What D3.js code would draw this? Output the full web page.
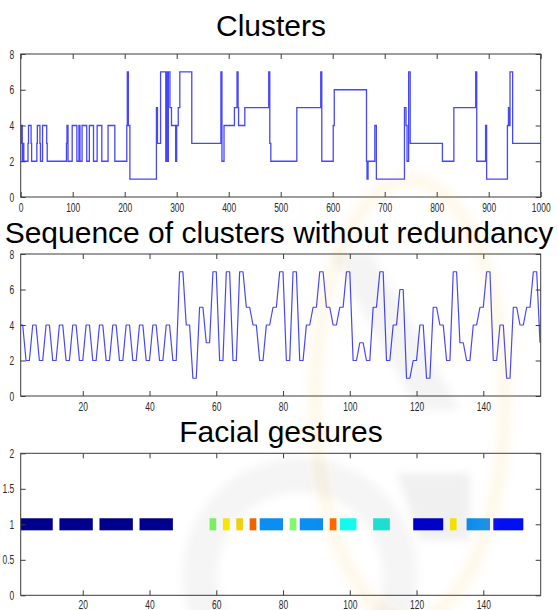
<!DOCTYPE html>
<html><head><meta charset="utf-8">
<script src="https://cdn.jsdelivr.net/npm/d3@7"></script>
<style>
html,body{margin:0;padding:0;background:#fff;}
svg{display:block;}
text{font-family:"Liberation Sans",Arial,sans-serif;}
</style></head>
<body><svg id="c" width="558" height="610"></svg>
<script>
// ---------- DATA ----------
// Panel 1: cluster index over frames (step changes: start frame, cluster)
const clusterFrames = [0,1,3,5,6,14,15,20,21,31,32,37,38,42,50,51,88,89,91,99,108,112,114,118,127,132,140,147,156,168,181,204,205,207,210,261,263,269,279,281,282,284,287,290,298,300,303,306,329,385,387,391,411,416,418,419,431,477,479,481,531,577,579,601,603,665,666,668,681,684,738,741,743,746,749,811,833,875,877,894,896,936,938,940,941,946,1000];
const clusterValues = [3,4,2,3,2,3,4,3,2,3,4,3,2,4,3,2,3,4,2,4,2,4,2,4,2,4,2,4,2,4,2,4,7,4,1,5,3,7,2,7,2,7,5,4,2,4,5,7,3,7,2,4,5,7,5,4,5,7,3,2,5,7,2,4,6,2,1,2,4,1,5,4,2,7,3,2,5,7,2,4,1,4,5,4,7,3,3];
const clusterXTicks = [0,100,200,300,400,500,600,700,800,900,1000];
const clusterYTicks = [0,2,4,6,8];

// Panel 2: sequence of clusters without redundancy (index 1..157)
const sequenceValues = [
4,4,2,2,4,4,2,2,4,4,2,2,4,4,2,2,4,4,2,2,4,4,2,2,
4,4,2,2,4,4,2,2,4,4,2,2,4,4,2,2,4,4,2,2,4,4,2,2,
7,7,4,4,1,1,5,5,3,3,7,7,2,2,7,7,2,2,7,7,
5,5,4,4,2,2,4,4,5,5,7,7,2,2,7,7,2,2,4,4,
5,5,7,7,5,5,4,4,5,5,7,7,2,2,3,3,2,2,5,5,
7,7,2,2,4,4,6,6,1,1,2,2,4,4,1,1,5,5,4,4,
2,2,7,7,3,3,2,2,4,4,5,5,7,7,2,2,4,4,1,1,
5,5,4,4,5,5,7,7,3];
const seqXTicks = [20,40,60,80,100,120,140];
const seqYTicks = [0,2,4,6,8];

// Panel 3: facial gestures (segments on the sequence index)
const gestureStart = [1,13,25,37,58,62,66,70,73,82,85,94,97,107,119,130,135,143];
const gestureEnd   = [11,23,35,47,60,64,68,72,80,84,92,96,102,112,128,132,142,152];
const gestureColor = ["#00008c","#00008c","#00008c","#00008c","#80f868","#fff000","#f2d40c","#f26400","#0a8ef2","#80f868","#0a8ef2","#ff6200","#12fbee","#20e6da","#0000d4","#fff000","#1090f0","#0010f2"];
const gestureY = 1;
const gesXTicks = [20,40,60,80,100,120,140];
const gesYTicks = [0,0.5,1,1.5,2];

// ---------- LAYOUT ----------
const svg = d3.select("#c");
svg.append("rect").attr("width",558).attr("height",610).attr("fill","#fff");
const L = 20.7, R = 540.7;
const panels = [
  {top:54, bottom:197, pad:6},
  {top:254, bottom:396, pad:6},
  {top:453.3, bottom:595.3, pad:4}
];
const frameColor = "#3c3c3c";
const lineColor = "#4646ff";

function styleAxis(g, isY){
  g.select(".domain").remove();
  g.selectAll(".tick line").attr("stroke",frameColor).attr("stroke-width",1);
  g.selectAll(".tick text").attr("fill","#2a2a2a").attr("font-size",13)
    .attr("font-family","'Liberation Sans',Arial,sans-serif");
  if(isY){
    g.selectAll(".tick text").attr("x",-10).attr("transform","scale(0.65,1)");
  } else {
    g.selectAll(".tick text").attr("transform","scale(0.65,1)");
  }
}

function drawFrame(x, y, p, xTicks, yTicks, yFmt, clipId){
  const gb = svg.append("g").attr("transform",`translate(0,${p.bottom})`)
    .call(d3.axisBottom(x).tickValues(xTicks).tickSizeInner(-5).tickSizeOuter(0).tickPadding(p.pad).tickFormat(d3.format("d")));
  styleAxis(gb,false);
  const gt = svg.append("g").attr("transform",`translate(0,${p.top})`)
    .call(d3.axisTop(x).tickValues(xTicks).tickSizeInner(-5).tickSizeOuter(0).tickFormat(""));
  styleAxis(gt,false);
  const gl = svg.append("g").attr("transform",`translate(${L},0)`)
    .call(d3.axisLeft(y).tickValues(yTicks).tickSizeInner(-5).tickSizeOuter(0).tickPadding(6).tickFormat(yFmt));
  styleAxis(gl,true);
  const gr = svg.append("g").attr("transform",`translate(${R},0)`)
    .call(d3.axisRight(y).tickValues(yTicks).tickSizeInner(-5).tickSizeOuter(0).tickFormat(""));
  styleAxis(gr,false);
  svg.append("rect").attr("x",L).attr("y",p.top).attr("width",R-L).attr("height",p.bottom-p.top)
    .attr("fill","none").attr("stroke",frameColor).attr("stroke-width",1);
  svg.append("clipPath").attr("id",clipId).append("rect")
    .attr("x",L).attr("y",p.top).attr("width",R-L).attr("height",p.bottom-p.top);
}

function title(txt, cx, baseline){
  svg.append("text").attr("x",cx).attr("y",baseline).attr("text-anchor","middle")
    .attr("font-size",30).attr("fill","#000").text(txt);
}

// ---------- PANEL 1 ----------
const x1 = d3.scaleLinear().domain([0,1000]).range([L,R]);
const y1 = d3.scaleLinear().domain([0,8]).range([panels[0].bottom,panels[0].top]);
const clusterPts = clusterFrames.map((f,i)=>[f,clusterValues[i]]);
svg.append("g").attr("clip-path","url(#clip1)").append("path")
  .datum(clusterPts)
  .attr("d", d3.line().x(d=>x1(d[0])).y(d=>y1(d[1])).curve(d3.curveStepAfter))
  .attr("fill","none").attr("stroke",lineColor).attr("stroke-width",1.3);
drawFrame(x1,y1,panels[0],clusterXTicks,clusterYTicks,d3.format("d"),"clip1");
title("Clusters",271,36);

// ---------- PANEL 2 ----------
const x2 = d3.scaleLinear().domain([1.4,157.2]).range([L,R]);
const y2 = d3.scaleLinear().domain([0,8]).range([panels[1].bottom,panels[1].top]);
svg.append("g").attr("clip-path","url(#clip2)").append("path")
  .datum(sequenceValues)
  .attr("d", d3.line().x((d,i)=>x2(i+1)).y(d=>y2(d)))
  .attr("fill","none").attr("stroke",lineColor).attr("stroke-width",1.2).attr("stroke-linejoin","round");
drawFrame(x2,y2,panels[1],seqXTicks,seqYTicks,d3.format("d"),"clip2");
title("Sequence of clusters without redundancy",279,243);

// ---------- PANEL 3 ----------
const x3 = d3.scaleLinear().domain([1.4,157.2]).range([L,R]);
const y3 = d3.scaleLinear().domain([0,2]).range([panels[2].bottom,panels[2].top]);
const barHalf = 0.085;
svg.append("g").attr("clip-path","url(#clip3)").selectAll("rect")
  .data(gestureStart.map((s,i)=>({s, e:gestureEnd[i], c:gestureColor[i]})))
  .join("rect")
  .attr("x",d=>x3(d.s)).attr("width",d=>x3(d.e)-x3(d.s))
  .attr("y",y3(gestureY+barHalf)).attr("height",y3(gestureY-barHalf)-y3(gestureY+barHalf))
  .attr("fill",d=>d.c);
drawFrame(x3,y3,panels[2],gesXTicks,gesYTicks,d=>d===0?"0":d3.format("")(d),"clip3");
title("Facial gestures",281,442);

// ---------- faint background watermark ----------
const defs = svg.append("defs");
defs.append("filter").attr("id","soft").append("feGaussianBlur").attr("stdDeviation",4);
const wm = svg.append("g").attr("pointer-events","none").attr("filter","url(#soft)");
wm.append("ellipse").attr("cx",410).attr("cy",400).attr("rx",95).attr("ry",220)
  .attr("fill","none").attr("stroke","#f3a623").attr("stroke-width",14).attr("opacity",0.08);
wm.append("polygon").attr("points","330,253 372,253 460,410 418,410")
  .attr("fill","#000").attr("opacity",0.045);
wm.append("circle").attr("cx",300).attr("cy",575).attr("r",100)
  .attr("fill","none").attr("stroke","#000").attr("stroke-width",35).attr("opacity",0.04);
wm.append("polygon").attr("points","397,473 470,473 470,540 420,540")
  .attr("fill","#000").attr("opacity",0.06);
</script></body></html>
